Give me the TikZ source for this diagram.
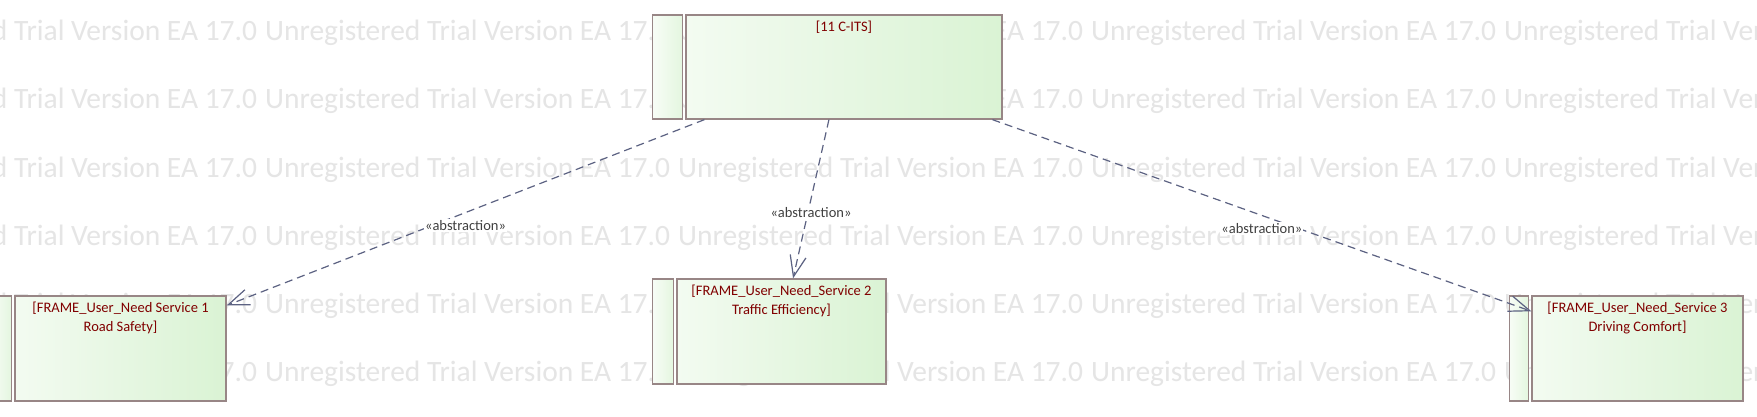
\documentclass[tikz,border=0pt]{standalone}
\usepackage{fontspec}
\setmainfont{Carlito}
\usepackage{xcolor}
\definecolor{eaborder}{RGB}{152,134,134}
\definecolor{eafillL}{RGB}{243,251,241}
\definecolor{eafillR}{RGB}{218,243,212}
\definecolor{eared}{RGB}{128,0,0}
\definecolor{ealine}{RGB}{92,98,130}
\definecolor{eatext}{RGB}{64,64,64}
\definecolor{eawater}{RGB}{229,229,229}
\usepackage{tikz}
\usetikzlibrary{arrows.meta, positioning, calc}

\tikzset{
  eabox/.style={draw=eaborder, line width=1.3pt, left color=eafillL, right color=eafillR, inner sep=0pt, minimum height=105pt},
  eastrip/.style={eabox, left color=eafillL!60!white, right color=eafillR!60!eafillL},
  eatitle/.style={font=\fontsize{14.5}{19}\selectfont, text=eared, align=center, inner sep=0pt, anchor=north},
  abstr/.style={draw=ealine, line width=1.2pt, dash pattern=on 8pt off 5pt, -{Straight Barb[length=21pt, width=16pt]}},
  abstrlabel/.style={font=\fontsize{14.5}{17}\selectfont, text=eatext, fill=white, inner sep=1pt},
  watermark/.style={font=\fontsize{29.5}{30}\selectfont, text=eawater, anchor=base west, inner sep=0pt}
}

\begin{document}
\begin{tikzpicture}[x=1pt, y=-1pt]
  \useasboundingbox (0,0) rectangle (1757,416);
  \fill[white] (0,0) rectangle (1757,416);
  \clip (0,0) rectangle (1757,416);

  % Watermark
  \foreach \row/\yb in {1/40, 2/108, 3/177, 4/245, 5/313, 6/381}
    \foreach \col in {0,...,4}
      \node[watermark] (wm-\row-\col) at ({-148+413*\col}, \yb) {Unregistered Trial Version EA 17.0};

  % C-ITS
  \node[eabox, minimum width=316pt, minimum height=104pt] (cits) at (844,67) {};
  \node[eastrip, minimum width=30pt, minimum height=104pt, left=2.5pt of cits] (cits-strip) {};
  \node[eatitle] (cits-title) at ([yshift=-6.5pt]cits.north) {[11 C-ITS]};

  % Service 1
  \node[eabox, minimum width=211pt] (rs) at (120.5,348.5) {};
  \node[eastrip, minimum width=20pt, left=2.5pt of rs] (rs-strip) {};
  \node[eatitle] (rs-title) at ([yshift=-6.5pt]rs.north) {[FRAME\_User\_Need Service 1\\Road Safety]};

  % Service 2
  \node[eabox, minimum width=209pt] (te) at (781.5,331.5) {};
  \node[eastrip, minimum width=21pt, left=2.5pt of te] (te-strip) {};
  \node[eatitle] (te-title) at ([yshift=-6.5pt]te.north) {[FRAME\_User\_Need\_Service 2\\Traffic Efficiency]};

  % Service 3
  \node[eabox, minimum width=211pt] (dc) at (1637.5,348.5) {};
  \node[eastrip, minimum width=19pt, left=2.5pt of dc] (dc-strip) {};
  \node[eatitle] (dc-title) at ([yshift=-6.5pt]dc.north) {[FRAME\_User\_Need\_Service 3\\Driving Comfort]};

  % Abstractions
  \coordinate (cits-s1) at ($(cits.south west)!0.06!(cits.south east)$);
  \coordinate (cits-s2) at ($(cits.south west)!0.4525!(cits.south east)$);
  \coordinate (cits-s3) at ($(cits.south west)!0.968!(cits.south east)$);
  \coordinate (rs-in) at ($(rs.north east)!0.095!(rs.south east)$);
  \coordinate (te-in) at ($(te.north west)!0.555!(te.north east)$);
  \coordinate (dc-in) at ($(dc.north west)!0.15!(dc.south west)$);

  \draw[abstr] (cits-s1) -- node[abstrlabel, yshift=-13pt] (abs-rs) {«abstraction»} (rs-in);
  \draw[abstr] (cits-s2) -- node[abstrlabel, yshift=-14pt] (abs-te) {«abstraction»} (te-in);
  \draw[abstr] (cits-s3) -- node[abstrlabel, yshift=-13pt] (abs-dc) {«abstraction»} (dc-in);
\end{tikzpicture}
\end{document}
